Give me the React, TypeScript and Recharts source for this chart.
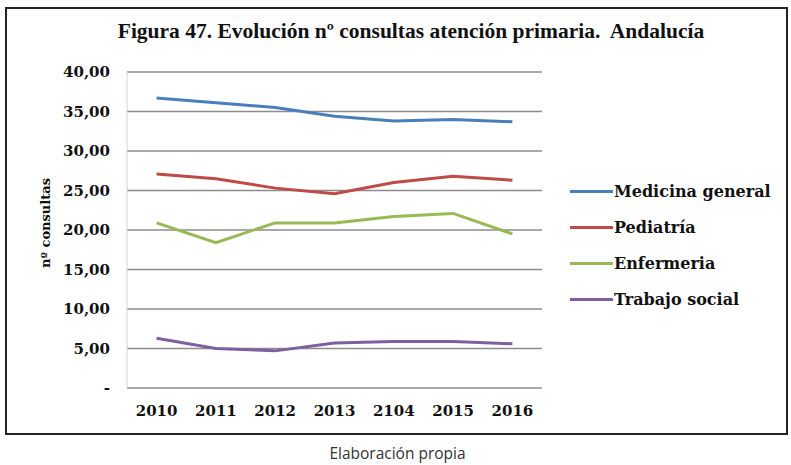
import { LineChart, Line, XAxis, YAxis, CartesianGrid, Label } from 'recharts';

const years = ['2010', '2011', '2012', '2013', '2104', '2015', '2016'];
const medicinaGeneral = [36.7, 36.1, 35.5, 34.4, 33.8, 34.0, 33.7];
const pediatria = [27.1, 26.5, 25.3, 24.6, 26.0, 26.8, 26.3];
const enfermeria = [20.9, 18.4, 20.9, 20.9, 21.7, 22.1, 19.5];
const trabajoSocial = [6.3, 5.0, 4.7, 5.7, 5.9, 5.9, 5.6];
const yTicks = [0, 5, 10, 15, 20, 25, 30, 35, 40];

const series = [
  { key: 'medicina', name: 'Medicina general', color: '#4a7ebb', values: medicinaGeneral },
  { key: 'pediatria', name: 'Pediatría', color: '#be4b48', values: pediatria },
  { key: 'enfermeria', name: 'Enfermeria', color: '#98b954', values: enfermeria },
  { key: 'trabajo', name: 'Trabajo social', color: '#7d60a0', values: trabajoSocial },
];

const data = years.map((year, i) => {
  const row: Record<string, string | number> = { year };
  series.forEach((s) => {
    row[s.key] = s.values[i];
  });
  return row;
});

const serif = '"DejaVu Serif", serif';
const fmt = (v: number) => (v === 0 ? '-' : v.toFixed(2).replace('.', ','));

export default function App() {
  return (
    <div style={{ position: 'absolute', left: 0, top: 0, width: 791, height: 465, background: '#fff' }}>
      <div
        style={{
          position: 'absolute',
          left: 5,
          top: 7,
          width: 779,
          height: 424,
          border: '2.5px solid #222',
        }}
      />
      <div
        style={{
          position: 'absolute',
          left: 0,
          top: 19,
          width: 822,
          textAlign: 'center',
          fontFamily: '"Liberation Serif", serif',
          fontWeight: 'bold',
          fontSize: 21.5,
          color: '#111',
        }}
      >
        Figura 47. Evolución nº consultas atención primaria.&nbsp; Andalucía
      </div>
      <div style={{ position: 'absolute', left: 0, top: 0 }}>
        <LineChart width={791} height={440} data={data} margin={{ top: 72, right: 249, bottom: 22, left: 47 }}>
          <CartesianGrid vertical={false} stroke="#8c8c8c" strokeWidth={1.5} />
          <XAxis
            dataKey="year"
            axisLine={false}
            tickLine={false}
            tickSize={0}
            tickMargin={17}
            height={30}
            padding={{ left: 29.6, right: 29.6 }}
            tick={{ fontFamily: serif, fontWeight: 'bold', fontSize: 15, fill: '#111' }}
          />
          <YAxis
            width={80}
            domain={[0, 40]}
            ticks={yTicks}
            tickFormatter={fmt}
            axisLine={{ stroke: '#d4d4d4' }}
            tickLine={false}
            tickSize={0}
            tickMargin={17}
            tick={{ fontFamily: serif, fontWeight: 'bold', fontSize: 15, fill: '#111' }}
          >
            <Label
              content={() => (
                <text
                  transform="translate(50,223) rotate(-90)"
                  textAnchor="middle"
                  fontFamily={serif}
                  fontWeight="bold"
                  fontSize={13}
                  fill="#111"
                >
                  nº consultas
                </text>
              )}
            />
          </YAxis>
          {series.map((s) => (
            <Line
              key={s.key}
              dataKey={s.key}
              name={s.name}
              stroke={s.color}
              strokeWidth={3}
              dot={false}
              activeDot={false}
              isAnimationActive={false}
            />
          ))}
        </LineChart>
      </div>
      {series.map((s, i) => (
        <div
          key={s.key}
          style={{
            position: 'absolute',
            left: 570,
            top: 180 + i * 36,
            height: 22,
            display: 'flex',
            alignItems: 'center',
          }}
        >
          <div style={{ width: 43, height: 3, background: s.color }} />
          <span style={{ fontFamily: serif, fontWeight: 'bold', fontSize: 16, color: '#111', marginLeft: 1 }}>
            {s.name}
          </span>
        </div>
      ))}
      <div
        style={{
          position: 'absolute',
          left: 0,
          top: 442,
          width: 795,
          textAlign: 'center',
          fontFamily: '"Open Sans", sans-serif',
          fontSize: 15.5,
          color: '#333',
        }}
      >
        Elaboración propia
      </div>
    </div>
  );
}
